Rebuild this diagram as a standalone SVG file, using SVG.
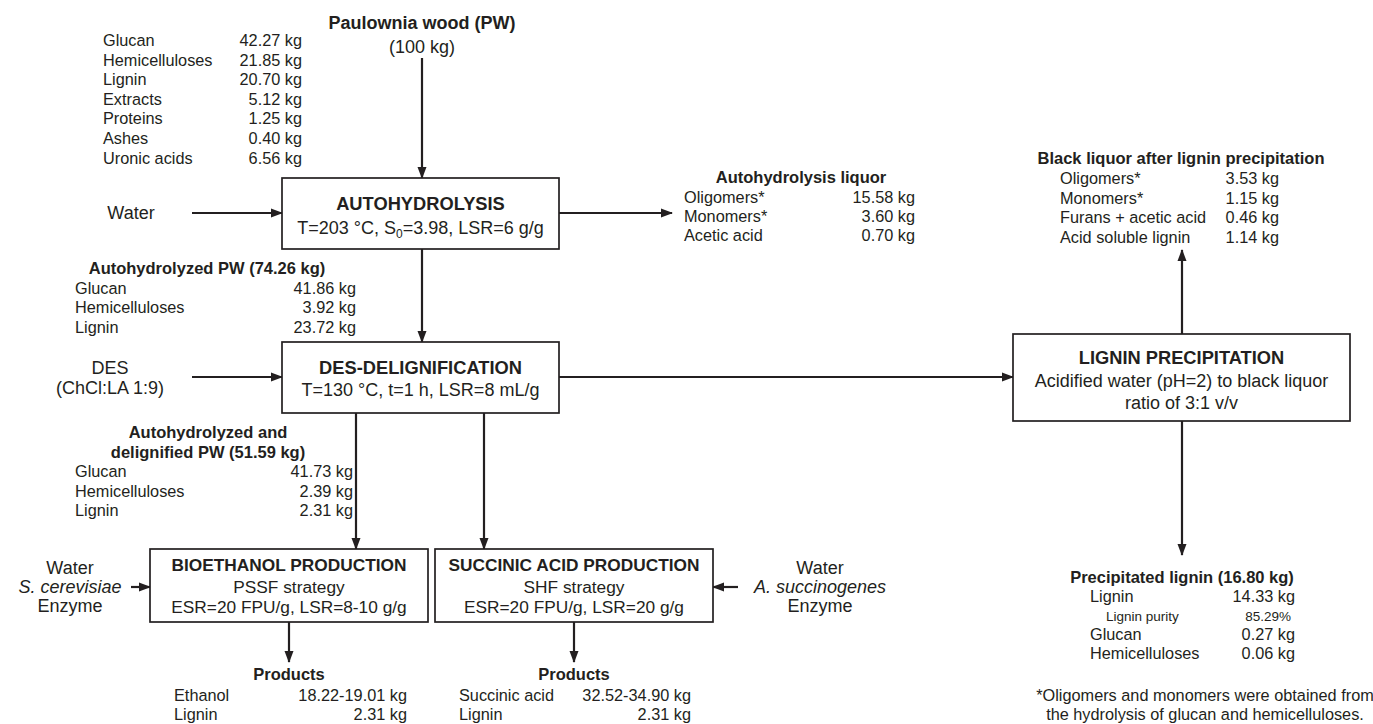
<svg xmlns="http://www.w3.org/2000/svg" width="1373" height="724" viewBox="0 0 1373 724">
<style>
text{font-family:"Liberation Sans",Arial,Helvetica,sans-serif;font-size:16.3px;fill:#231f20}
.b{font-weight:bold;font-size:16.5px}
.h{font-weight:bold;font-size:18.3px}
.hs{font-weight:bold;font-size:17.3px}
.p{font-size:18px}
.q{font-size:17.3px}
.in{font-size:18px}
.m{text-anchor:middle}
.e{text-anchor:end}
.i{font-style:italic}
.s{font-size:13.5px}
.box{fill:#fff;stroke:#231f20;stroke-width:1.7}
.c{stroke:#231f20;stroke-width:2.2;fill:none}
</style>
<defs>
<marker id="ah" markerUnits="userSpaceOnUse" markerWidth="12" markerHeight="12" viewBox="0 0 12 12" refX="11" refY="6" orient="auto">
<path d="M0,1.5 L12,6 L0,10.5 Z" fill="#231f20"/>
</marker>
</defs>

<g id="connectors">
<line class="c" x1="422" y1="58" x2="422" y2="178" marker-end="url(#ah)"/>
<line class="c" x1="192" y1="213" x2="282" y2="213" marker-end="url(#ah)"/>
<line class="c" x1="559" y1="213" x2="672" y2="213" marker-end="url(#ah)"/>
<line class="c" x1="422" y1="249" x2="422" y2="342" marker-end="url(#ah)"/>
<line class="c" x1="192" y1="377" x2="282" y2="377" marker-end="url(#ah)"/>
<line class="c" x1="559" y1="377" x2="1013" y2="377" marker-end="url(#ah)"/>
<line class="c" x1="1182" y1="334" x2="1182" y2="250" marker-end="url(#ah)"/>
<line class="c" x1="1182" y1="421" x2="1182" y2="555" marker-end="url(#ah)"/>
<line class="c" x1="356" y1="413" x2="356" y2="549" marker-end="url(#ah)"/>
<line class="c" x1="484" y1="413" x2="484" y2="549" marker-end="url(#ah)"/>
<line class="c" x1="131" y1="587" x2="150" y2="587" marker-end="url(#ah)"/>
<line class="c" x1="738" y1="587" x2="713" y2="587" marker-end="url(#ah)"/>
<line class="c" x1="289" y1="622" x2="289" y2="662" marker-end="url(#ah)"/>
<line class="c" x1="574" y1="622" x2="574" y2="662" marker-end="url(#ah)"/>
</g>

<g id="pw-input">
<text class="h m" x="422" y="29" style="font-size:18px">Paulownia wood (PW)</text>
<text class="p m" x="422" y="53">(100 kg)</text>
<text x="103" y="46">Glucan</text><text class="e" x="302" y="46">42.27 kg</text>
<text x="103" y="65.6">Hemicelluloses</text><text class="e" x="302" y="65.6">21.85 kg</text>
<text x="103" y="85.2">Lignin</text><text class="e" x="302" y="85.2">20.70 kg</text>
<text x="103" y="104.8">Extracts</text><text class="e" x="302" y="104.8">5.12 kg</text>
<text x="103" y="124.4">Proteins</text><text class="e" x="302" y="124.4">1.25 kg</text>
<text x="103" y="144">Ashes</text><text class="e" x="302" y="144">0.40 kg</text>
<text x="103" y="163.6">Uronic acids</text><text class="e" x="302" y="163.6">6.56 kg</text>
</g>

<g id="water-1"><text class="in m" x="131" y="219">Water</text></g>

<g id="autohydrolysis">
<rect class="box" x="282" y="178" width="277" height="71"/>
<text class="h m" x="420.5" y="209.5">AUTOHYDROLYSIS</text>
<text class="p m" x="420.5" y="234">T=203 °C, S<tspan font-size="12" dy="4">0</tspan><tspan dy="-4">=3.98, LSR=6 g/g</tspan></text>
</g>

<g id="autohydrolysis-liquor">
<text class="b m" x="801" y="183">Autohydrolysis liquor</text>
<text x="684" y="203">Oligomers*</text><text class="e" x="915" y="203">15.58 kg</text>
<text x="684" y="222">Monomers*</text><text class="e" x="915" y="222">3.60 kg</text>
<text x="684" y="241">Acetic acid</text><text class="e" x="915" y="241">0.70 kg</text>
</g>

<g id="autohydrolyzed-pw">
<text class="b m" x="207" y="274">Autohydrolyzed PW (74.26 kg)</text>
<text x="75" y="294">Glucan</text><text class="e" x="356" y="294">41.86 kg</text>
<text x="75" y="313">Hemicelluloses</text><text class="e" x="356" y="313">3.92 kg</text>
<text x="75" y="333">Lignin</text><text class="e" x="356" y="333">23.72 kg</text>
</g>

<g id="des-input">
<text class="in m" x="110" y="374">DES</text>
<text class="in m" x="110" y="394">(ChCl:LA 1:9)</text>
</g>

<g id="des-delignification">
<rect class="box" x="282" y="342" width="277" height="71"/>
<text class="h m" x="420.5" y="373.5">DES-DELIGNIFICATION</text>
<text class="p m" x="420.5" y="396">T=130 °C, t=1 h, LSR=8 mL/g</text>
</g>

<g id="black-liquor">
<text class="b m" x="1181" y="164">Black liquor after lignin precipitation</text>
<text x="1060" y="184">Oligomers*</text><text class="e" x="1279" y="184">3.53 kg</text>
<text x="1060" y="204">Monomers*</text><text class="e" x="1279" y="204">1.15 kg</text>
<text x="1060" y="223">Furans + acetic acid</text><text class="e" x="1279" y="223">0.46 kg</text>
<text x="1060" y="243">Acid soluble lignin</text><text class="e" x="1279" y="243">1.14 kg</text>
</g>

<g id="lignin-precipitation">
<rect class="box" x="1013" y="334" width="337" height="87"/>
<text class="h m" x="1181.5" y="363.5">LIGNIN PRECIPITATION</text>
<text class="p m" x="1181.5" y="386.5">Acidified water (pH=2) to black liquor</text>
<text class="p m" x="1181.5" y="408.5">ratio of 3:1 v/v</text>
</g>

<g id="delignified-pw">
<text class="b m" x="208" y="438">Autohydrolyzed and</text>
<text class="b m" x="208" y="458">delignified PW (51.59 kg)</text>
<text x="75" y="477">Glucan</text><text class="e" x="353" y="477">41.73 kg</text>
<text x="75" y="497">Hemicelluloses</text><text class="e" x="353" y="497">2.39 kg</text>
<text x="75" y="516">Lignin</text><text class="e" x="353" y="516">2.31 kg</text>
</g>

<g id="bioethanol-inputs">
<text class="in m" x="70" y="574">Water</text>
<text class="in m i" x="70" y="593">S. cerevisiae</text>
<text class="in m" x="70" y="612">Enzyme</text>
</g>

<g id="bioethanol-production">
<rect class="box" x="150" y="549" width="278" height="73"/>
<text class="hs m" x="289" y="571">BIOETHANOL PRODUCTION</text>
<text class="q m" x="289" y="593">PSSF strategy</text>
<text class="q m" x="289" y="613">ESR=20 FPU/g, LSR=8-10 g/g</text>
</g>

<g id="succinic-acid-production">
<rect class="box" x="435" y="549" width="278" height="73"/>
<text class="hs m" x="574" y="571">SUCCINIC ACID PRODUCTION</text>
<text class="q m" x="574" y="593">SHF strategy</text>
<text class="q m" x="574" y="613">ESR=20 FPU/g, LSR=20 g/g</text>
</g>

<g id="succinic-inputs">
<text class="in m" x="820" y="574">Water</text>
<text class="in m i" x="820" y="593">A. succinogenes</text>
<text class="in m" x="820" y="612">Enzyme</text>
</g>

<g id="products-ethanol">
<text class="b m" x="289" y="680">Products</text>
<text x="174" y="701">Ethanol</text><text class="e" x="407" y="701">18.22-19.01 kg</text>
<text x="174" y="720">Lignin</text><text class="e" x="407" y="720">2.31 kg</text>
</g>

<g id="products-succinic">
<text class="b m" x="574" y="680">Products</text>
<text x="459" y="701">Succinic acid</text><text class="e" x="691" y="701">32.52-34.90 kg</text>
<text x="459" y="720">Lignin</text><text class="e" x="691" y="720">2.31 kg</text>
</g>

<g id="precipitated-lignin">
<text class="b m" x="1182" y="583">Precipitated lignin (16.80 kg)</text>
<text x="1090" y="602">Lignin</text><text class="e" x="1295" y="602">14.33 kg</text>
<text class="s" x="1106" y="621">Lignin purity</text><text class="s e" x="1291" y="621">85.29%</text>
<text x="1090" y="640">Glucan</text><text class="e" x="1295" y="640">0.27 kg</text>
<text x="1090" y="659">Hemicelluloses</text><text class="e" x="1295" y="659">0.06 kg</text>
</g>

<g id="footnote">
<text class="m" x="1205" y="701">*Oligomers and monomers were obtained from</text>
<text class="m" x="1205" y="720">the hydrolysis of glucan and hemicelluloses.</text>
</g>
</svg>
